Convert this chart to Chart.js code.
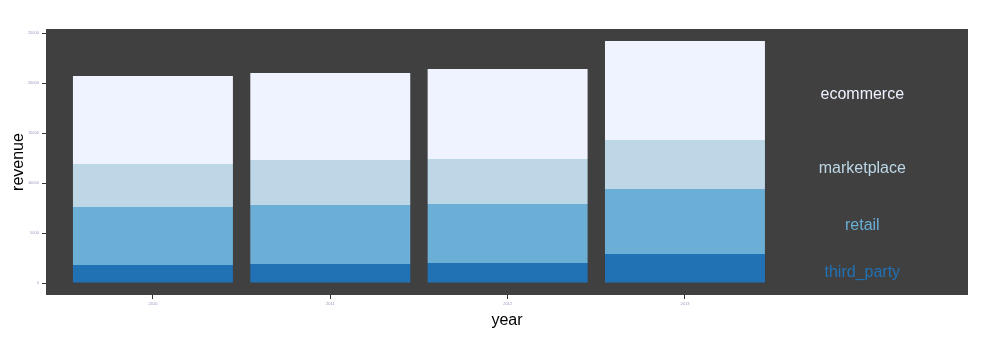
<!DOCTYPE html>
<html>
<head>
<meta charset="utf-8">
<title>revenue by year</title>
<script src="https://cdn.jsdelivr.net/npm/chart.js@4.4.1/dist/chart.umd.min.js"></script>
<style>
  html, body { margin: 0; padding: 0; background: #ffffff; }
  #wrap { width: 990px; height: 348px; }
</style>
</head>
<body>
<div id="wrap"><canvas id="revenueChart" width="990" height="348"></canvas></div>
<script>
// data ====================================
const years = ["2010", "2011", "2012", "2013"];
const thirdParty = [1800, 1900, 2000, 2900];
const retail = [5800, 5900, 5900, 6500];
const marketplace = [4300, 4500, 4500, 4900];
const ecommerce = [8800, 8700, 9000, 9900];
const yTicks = [0, 5000, 10000, 15000, 20000, 25000];

// bottom to top in the stack
const series = [
  { name: "third_party", values: thirdParty, color: "#2171b5" },
  { name: "retail", values: retail, color: "#6baed6" },
  { name: "marketplace", values: marketplace, color: "#bdd7e7" },
  { name: "ecommerce", values: ecommerce, color: "#eff3ff" },
];

const FONT = "'Liberation Sans', Arial, sans-serif";

// dark panel behind the bars
const panelBg = {
  id: "panelBg",
  beforeDraw(chart) {
    const { ctx, chartArea } = chart;
    ctx.save();
    ctx.fillStyle = "#404040";
    ctx.fillRect(chartArea.left, chartArea.top, chartArea.right - chartArea.left, chartArea.bottom - chartArea.top);
    ctx.restore();
  },
};

// series names next to the last bar, centred on its segments
const seriesLabels = {
  id: "seriesLabels",
  afterDatasetsDraw(chart) {
    const { ctx } = chart;
    const xs = chart.scales.x;
    const ys = chart.scales.y;
    const last = years.length - 1;
    const x = xs.getPixelForValue(years.length);
    let base = 0;
    ctx.save();
    ctx.font = "16px " + FONT;
    ctx.textAlign = "center";
    ctx.textBaseline = "alphabetic";
    series.forEach((s) => {
      const v = s.values[last];
      const mid = ys.getPixelForValue(base + v / 2);
      base += v;
      ctx.fillStyle = s.color;
      ctx.fillText(s.name, x, mid + 8);
    });
    ctx.restore();
  },
};

const ctx = document.getElementById("revenueChart").getContext("2d");
new Chart(ctx, {
  type: "bar",
  data: {
    datasets: series.map((s) => ({
      label: s.name,
      data: s.values.map((v, i) => ({ x: i, y: v })),
      backgroundColor: s.color,
      borderWidth: 0,
      borderSkipped: false,
      categoryPercentage: 1,
      barPercentage: 0.902,
    })),
  },
  options: {
    responsive: false,
    animation: false,
    layout: { padding: { top: 29, right: 22, left: 0, bottom: 0 } },
    plugins: {
      legend: { display: false },
      tooltip: { enabled: false },
    },
    scales: {
      x: {
        type: "linear",
        stacked: true,
        offset: false,
        min: -0.603,
        max: 4.596,
        afterFit: (scale) => { scale.height = 53; },
        afterBuildTicks: (scale) => {
          scale.ticks = years.map((_, i) => ({ value: i }));
        },
        ticks: {
          autoSkip: false,
          maxRotation: 0,
          padding: 2,
          color: "#9a9ac4",
          font: { size: 4, family: FONT },
          callback: (value) => years[value],
        },
        grid: { offset: false, drawOnChartArea: false, drawTicks: true, tickLength: 4, tickColor: "#333333" },
        border: { display: false },
        title: {
          display: true,
          text: "year",
          color: "#000000",
          font: { size: 16, family: FONT },
          padding: { top: 0, bottom: 18 },
        },
      },
      y: {
        stacked: true,
        min: -1200,
        max: 25400,
        afterFit: (scale) => { scale.width = 46; },
        afterBuildTicks: (scale) => {
          scale.ticks = yTicks.map((v) => ({ value: v }));
        },
        ticks: {
          padding: 3,
          color: "#9a9ac4",
          font: { size: 4, family: FONT },
          callback: (value) => String(value),
        },
        grid: { drawOnChartArea: false, drawTicks: true, tickLength: 4, tickColor: "#333333" },
        border: { display: false },
        title: {
          display: true,
          text: "revenue",
          color: "#000000",
          font: { size: 16, family: FONT },
          padding: { top: 9, bottom: 0 },
        },
      },
    },
  },
  plugins: [panelBg, seriesLabels],
});
</script>
</body>
</html>
